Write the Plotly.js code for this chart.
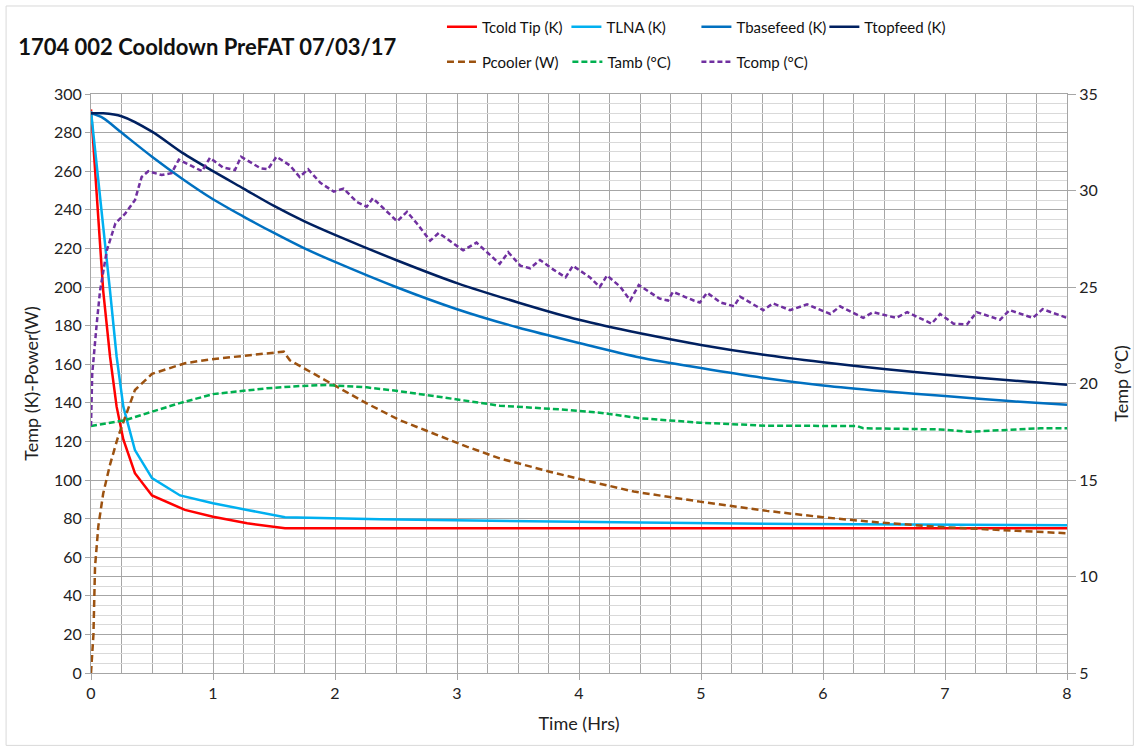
<!DOCTYPE html>
<html>
<head>
<meta charset="utf-8">
<script src="https://cdn.plot.ly/plotly-3.0.1.min.js"></script>
<style>html,body{margin:0;padding:0;background:#fff;}#chart{width:1139px;height:751px;}</style>
</head>
<body>
<div id="chart"></div>
<script>
// ---- Data (time in hours) ----
const tColdT = [0,0.03,0.06,0.10,0.156,0.21,0.265,0.36,0.5,0.77,1.0,1.28,1.59,2,3,4,5,6,7,8];
const tColdV = [292,262,233,198,164,138,121,103.5,92,84.5,81,77.6,75,75,75,75,75,75,75,75];

const tlnaT = [0,0.05,0.10,0.156,0.21,0.265,0.36,0.5,0.73,1.0,1.28,1.59,2.37,3.35,4.5,5.82,7,8];
const tlnaV = [291,262,233,198,164,138,115.5,101,92,88,84.5,80.7,79.6,78.8,78,77.2,77,76.5];

const tBaseT = [0,0.1,0.25,0.5,0.75,1.0,1.25,1.5,1.75,2.0,2.5,3.0,3.5,4,4.5,5,5.5,6,6.5,7,7.5,8];
const tBaseV = [290,287.5,280,267.5,256,245.5,236.5,228,220,213,200,188.5,179,171,163.5,158,153,149,146,143.5,141,139];

const tTopT = [0,0.1,0.25,0.5,0.75,1.0,1.25,1.5,1.75,2.0,2.5,3.0,3.5,4,4.5,5,5.5,6,6.5,7,7.5,8];
const tTopV = [290,290,288.5,280.5,269.5,260,251,242,234,227,214,202,192,183,176,170,165,161,157.5,154.5,151.8,149.3];

const pCoolT = [0,0.02,0.033,0.06,0.1,0.156,0.22,0.36,0.5,0.77,0.975,1.25,1.58,1.63,1.8,1.99,2.26,2.53,2.81,3.08,3.35,3.76,4.04,4.45,4.99,5.54,6.0,6.47,7.01,7.56,8.0];
const pCoolV = [0,20,55,76,93,108,122,146.6,155,160.5,162.5,164.2,166.5,162,156,149,139.7,131,124,117.3,111.2,104.3,100,94,88.8,84,80.7,77.9,75.5,73.7,72.4];

const tAmbT = [0,0.28,0.5,0.72,1.0,1.17,1.44,1.71,1.93,2.26,2.53,2.81,3.08,3.35,3.84,4.17,4.5,4.99,5.54,6.28,6.33,6.96,7.2,7.36,7.52,7.78,8];
const tAmbV = [17.8,18.1,18.54,18.97,19.45,19.57,19.75,19.87,19.92,19.8,19.6,19.35,19.1,18.85,18.66,18.49,18.2,17.97,17.81,17.8,17.68,17.62,17.5,17.55,17.6,17.68,17.68];

const tCompT = [0,0.01,0.047,0.074,0.13,0.2,0.28,0.36,0.415,0.47,0.58,0.66,0.72,0.82,0.91,0.975,1.08,1.18,1.23,1.39,1.45,1.52,1.63,1.71,1.78,1.88,1.99,2.07,2.18,2.26,2.31,2.51,2.59,2.67,2.78,2.85,3.05,3.16,3.35,3.42,3.52,3.6,3.68,3.79,3.89,3.95,4.09,4.17,4.23,4.34,4.42,4.49,4.66,4.73,4.77,4.94,4.99,5.05,5.16,5.27,5.32,5.51,5.59,5.73,5.87,6.06,6.14,6.33,6.41,6.6,6.69,6.89,6.96,7.07,7.18,7.26,7.45,7.53,7.72,7.8,8.0];
const tCompV = [17.8,20.5,23.1,24.8,26.9,28.3,28.8,29.5,30.7,31.0,30.8,30.9,31.6,31.3,31.0,31.7,31.2,31.06,31.75,31.15,31.1,31.75,31.3,30.7,31.1,30.4,29.94,30.1,29.4,29.16,29.6,28.4,28.9,28.3,27.4,27.8,26.9,27.3,26.2,26.8,26.1,25.97,26.4,25.9,25.5,26.1,25.5,25.0,25.6,25.0,24.3,25.1,24.4,24.3,24.75,24.3,24.2,24.7,24.2,24.0,24.5,23.8,24.15,23.8,24.1,23.6,24.0,23.4,23.7,23.4,23.7,23.1,23.6,23.1,23.06,23.7,23.3,23.8,23.4,23.85,23.4];

const titleText = "1704 002 Cooldown PreFAT 07/03/17";
const xTitle = "Time (Hrs)";
const yTitle = "Temp (K)-Power(W)";
const y2Title = "Temp (°C)";

const FONT = "Lato, 'Open Sans', sans-serif";

const traces = [
  {x: tColdT, y: tColdV, name: "Tcold Tip (K)", mode: "lines", line: {color: "#FF0000", width: 2.5}, legend: "legend"},
  {x: tlnaT, y: tlnaV, name: "TLNA (K)", mode: "lines", line: {color: "#00B0F0", width: 2.5}, legend: "legend2"},
  {x: tBaseT, y: tBaseV, name: "Tbasefeed (K)", mode: "lines", line: {color: "#0070C0", width: 2.5, shape: "spline", smoothing: 0.8}, legend: "legend3"},
  {x: tTopT, y: tTopV, name: "Ttopfeed (K)", mode: "lines", line: {color: "#002060", width: 2.5, shape: "spline", smoothing: 0.8}, legend: "legend4"},
  {x: pCoolT, y: pCoolV, name: "Pcooler (W)", mode: "lines", line: {color: "#9C5210", width: 2.5, dash: "7px,4px"}, legend: "legend5"},
  {x: tAmbT, y: tAmbV, name: "Tamb (°C)", mode: "lines", yaxis: "y2", line: {color: "#00B050", width: 2.5, dash: "6px,3px"}, legend: "legend6"},
  {x: tCompT, y: tCompV, name: "Tcomp (°C)", mode: "lines", yaxis: "y2", line: {color: "#7030A0", width: 2.5, dash: "5px,3px"}, legend: "legend7"}
];

const gridDark = "#A6A6A6";
const gridLight = "#D9D9D9";

function leg(x, y) {
  return {orientation: "v", x: x, xanchor: "left", y: y, yanchor: "middle",
          font: {family: FONT, size: 15, color: "#111"}, bgcolor: "rgba(0,0,0,0)", itemwidth: 30};
}
const row1 = 1.1157, row2 = 1.0553;

const layout = {
  width: 1139, height: 751,
  margin: {l: 91, r: 72, t: 94, b: 78, autoexpand: false},
  paper_bgcolor: "#fff", plot_bgcolor: "#fff",
  font: {family: FONT, color: "#222", size: 16},
  title: {text: "<b>" + titleText + "</b>", x: 0.016, xref: "container", xanchor: "left", y: 0.937, yref: "container", yanchor: "middle", font: {family: FONT, size: 22, color: "#111"}},
  showlegend: true,
  legend: leg(0.3596, row1),
  legend2: leg(0.4871, row1),
  legend3: leg(0.6203, row1),
  legend4: leg(0.7514, row1),
  legend5: leg(0.3596, row2),
  legend6: leg(0.4881, row2),
  legend7: leg(0.6203, row2),
  xaxis: {
    range: [0, 8], dtick: 1, tick0: 0, showgrid: true, gridcolor: gridDark, gridwidth: 1,
    minor: {dtick: 0.25, showgrid: true, gridcolor: gridDark, gridwidth: 1},
    showline: true, linecolor: gridDark, mirror: true, zeroline: false,
    ticks: "outside", ticklen: 6, tickcolor: gridDark,
    tickfont: {size: 16, color: "#222"},
    title: {text: xTitle, font: {size: 18, color: "#222"}, standoff: 16}
  },
  yaxis: {
    range: [0, 300], dtick: 20, tick0: 0, showgrid: true, gridcolor: gridDark, gridwidth: 1,
    minor: {dtick: 5, showgrid: true, gridcolor: gridLight, gridwidth: 1},
    showline: true, linecolor: gridDark, zeroline: false,
    ticks: "outside", ticklen: 5, tickcolor: gridDark,
    tickfont: {size: 16, color: "#222"},
    title: {text: yTitle, font: {size: 18, color: "#222"}, standoff: 10}
  },
  yaxis2: {
    overlaying: "y", side: "right", range: [5, 35], dtick: 5, tick0: 5,
    showgrid: true, gridcolor: gridDark, gridwidth: 1,
    showline: true, linecolor: gridDark, zeroline: false,
    ticks: "outside", ticklen: 8, tickcolor: gridDark,
    tickfont: {size: 16, color: "#222"},
    title: {text: y2Title, font: {size: 18, color: "#222"}, standoff: 18}
  },
  shapes: [
    {type: "rect", xref: "paper", yref: "paper", x0: -0.087, x1: 1.068, y0: -0.125, y1: 1.152, line: {color: "#D9D9D9", width: 1}, fillcolor: "rgba(0,0,0,0)", layer: "below"}
  ]
};

Plotly.newPlot("chart", traces, layout, {displayModeBar: false, staticPlot: true});
</script>
</body>
</html>
